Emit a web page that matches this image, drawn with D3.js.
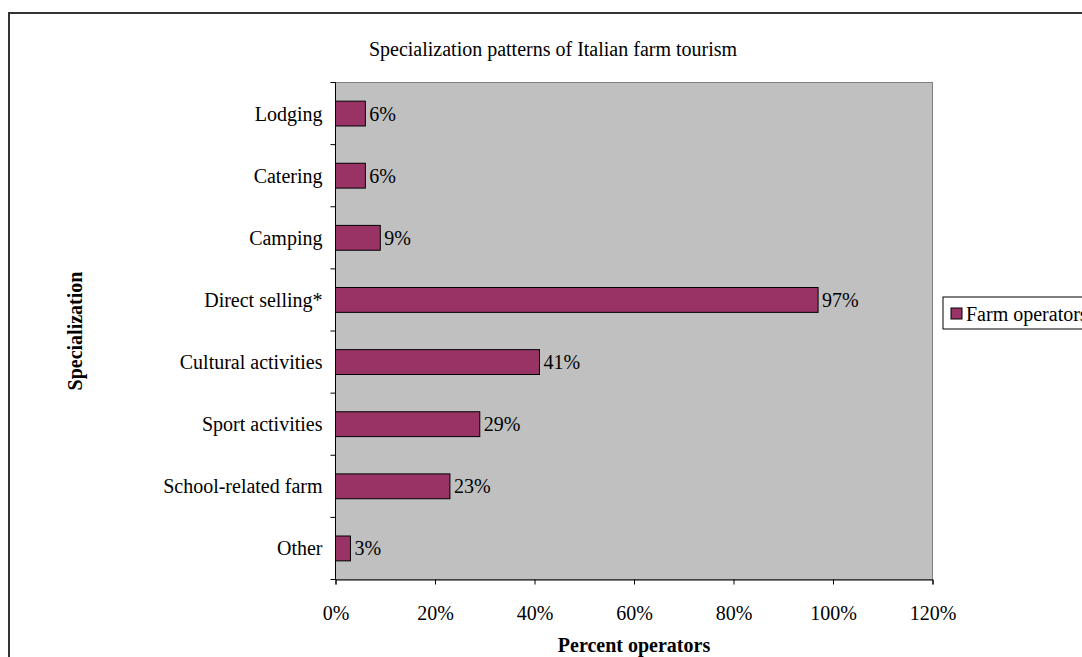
<!DOCTYPE html>
<html>
<head>
<meta charset="utf-8">
<script src="https://cdn.jsdelivr.net/npm/d3@7"></script>
<style>
  html, body { margin: 0; padding: 0; background: #fff; }
  svg { display: block; }
  text { font-family: "Liberation Serif", "Times New Roman", serif; fill: #000; }
</style>
</head>
<body>
<svg id="chart" width="1082" height="657"></svg>
<script>
// Specialization categories, top to bottom
const categories = ["Lodging", "Catering", "Camping", "Direct selling*", "Cultural activities", "Sport activities", "School-related farm", "Other"];
// Share of farm operators offering each specialization (%)
const operatorShare = [6, 6, 9, 97, 41, 29, 23, 3];
const xTicks = [0, 20, 40, 60, 80, 100, 120];
const seriesName = "Farm operators";

const FS = 20;
const svg = d3.select("#chart");
const W = 1082, H = 657;
const plot = { left: 335.5, top: 82.5, right: 932.5, bottom: 579.5 };

// outer chart frame
svg.append("rect")
  .attr("x", 9).attr("y", 13)
  .attr("width", W + 10).attr("height", H + 10)
  .attr("fill", "#fff").attr("stroke", "#333").attr("stroke-width", 2);

const x = d3.scaleLinear().domain([0, 120]).range([plot.left, plot.right]);
const y = d3.scaleBand().domain(categories).range([plot.top, plot.bottom]).paddingInner(0.6).paddingOuter(0.3);
const yBand = d3.scaleBand().domain(categories).range([plot.top, plot.bottom]);

// plot area background
svg.append("rect")
  .attr("x", plot.left).attr("y", plot.top)
  .attr("width", plot.right - plot.left).attr("height", plot.bottom - plot.top)
  .attr("fill", "#c0c0c0").attr("stroke", "#808080").attr("stroke-width", 1);

// bars
svg.append("g").selectAll("rect")
  .data(categories)
  .join("rect")
  .attr("x", x(0))
  .attr("y", d => y(d))
  .attr("width", (d, i) => x(operatorShare[i]) - x(0))
  .attr("height", y.bandwidth())
  .attr("fill", "#993366")
  .attr("stroke", "#000").attr("stroke-width", 1);

// value labels
svg.append("g").selectAll("text")
  .data(categories)
  .join("text")
  .attr("x", (d, i) => x(operatorShare[i]) + 4)
  .attr("y", d => y(d) + y.bandwidth() / 2)
  .attr("dy", "0.35em")
  .attr("font-size", FS)
  .text((d, i) => operatorShare[i] + "%");

// x axis
const xAxis = svg.append("g")
  .attr("transform", `translate(0,${plot.bottom})`)
  .call(d3.axisBottom(x).tickValues(xTicks).tickSize(5).tickPadding(21).tickFormat(d => d + "%"));
xAxis.select(".domain").attr("stroke", "#000");
xAxis.selectAll(".tick line").attr("stroke", "#000");
xAxis.selectAll("text").attr("font-size", FS).attr("font-family", "Liberation Serif");

// y axis: ticks at band boundaries, labels at band centres
const yAxisG = svg.append("g").attr("transform", `translate(${plot.left},0)`);
yAxisG.append("line")
  .attr("x1", 0).attr("x2", 0).attr("y1", plot.top).attr("y2", plot.bottom)
  .attr("stroke", "#000");
const boundaries = categories.map(c => yBand(c)).concat([plot.bottom]);
yAxisG.selectAll("line.tk")
  .data(boundaries)
  .join("line").attr("class", "tk")
  .attr("x1", -5).attr("x2", 0)
  .attr("y1", d => d).attr("y2", d => d)
  .attr("stroke", "#000");
yAxisG.selectAll("text")
  .data(categories)
  .join("text")
  .attr("x", -13)
  .attr("y", d => yBand(d) + yBand.bandwidth() / 2)
  .attr("dy", "0.35em")
  .attr("text-anchor", "end")
  .attr("font-size", FS)
  .text(d => d);

// title
svg.append("text")
  .attr("x", 553).attr("y", 49).attr("dy", "0.35em")
  .attr("text-anchor", "middle").attr("font-size", FS)
  .text("Specialization patterns of Italian farm tourism");

// axis titles
svg.append("text")
  .attr("x", 634).attr("y", 645).attr("dy", "0.35em")
  .attr("text-anchor", "middle").attr("font-size", FS).attr("font-weight", "bold")
  .text("Percent operators");
svg.append("text")
  .attr("transform", "translate(75,331) rotate(-90)")
  .attr("dy", "0.35em")
  .attr("text-anchor", "middle").attr("font-size", FS).attr("font-weight", "bold")
  .text("Specialization");

// legend
const legend = svg.append("g").attr("transform", "translate(943,297)");
legend.append("rect")
  .attr("x", 0).attr("y", 0).attr("width", 160).attr("height", 32)
  .attr("fill", "#fff").attr("stroke", "#000").attr("stroke-width", 1);
legend.append("rect")
  .attr("x", 8).attr("y", 11).attr("width", 11).attr("height", 11)
  .attr("fill", "#993366").attr("stroke", "#000");
legend.append("text")
  .attr("x", 23).attr("y", 16.5).attr("dy", "0.35em")
  .attr("font-size", FS)
  .text(seriesName);
</script>
</body>
</html>
